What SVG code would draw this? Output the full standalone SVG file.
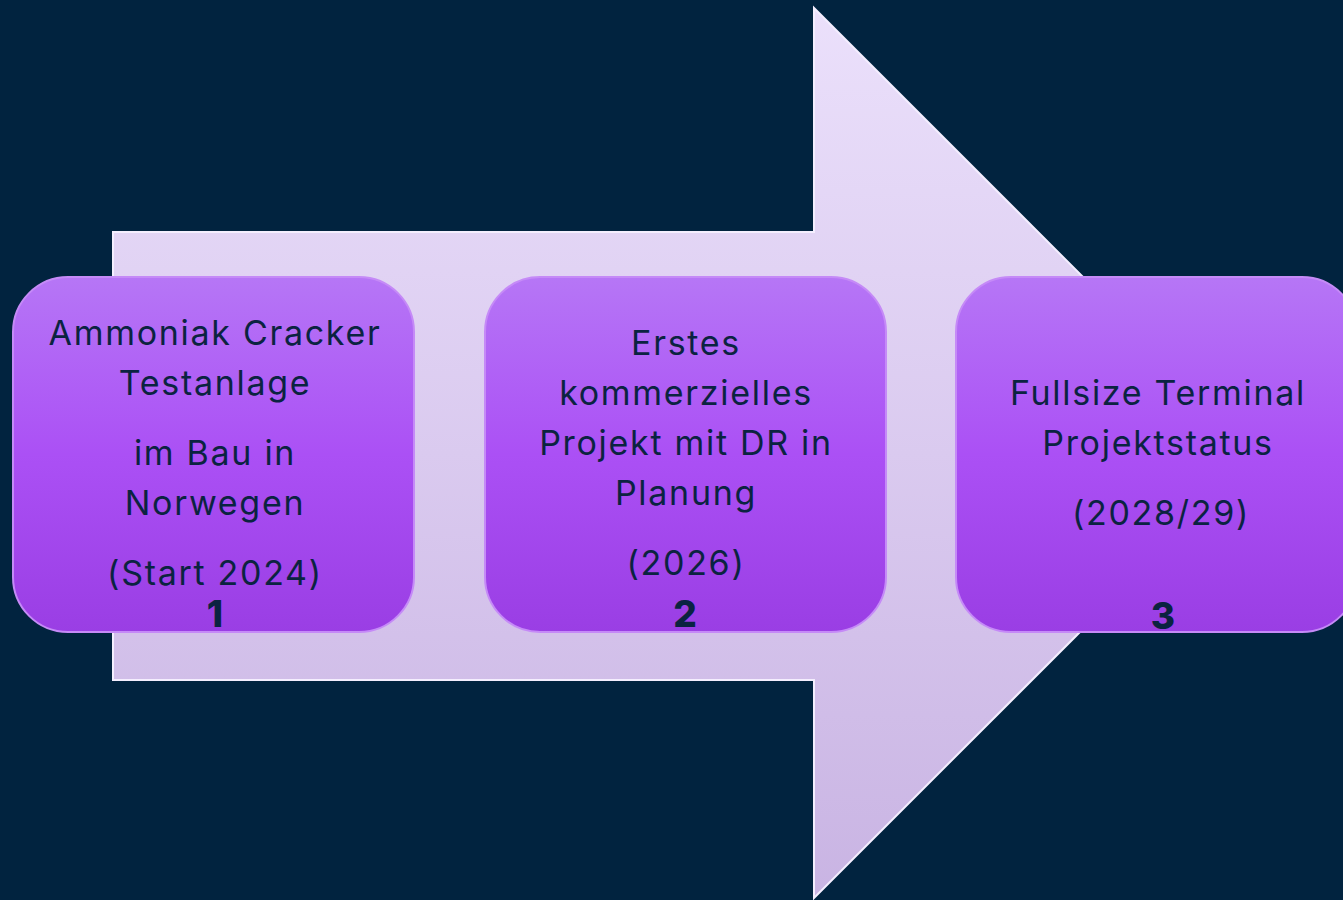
<svg xmlns="http://www.w3.org/2000/svg" width="1343" height="900" viewBox="0 0 1343 900">
<defs>
<linearGradient id="arrowG" x1="0" y1="0" x2="0" y2="1">
<stop offset="0" stop-color="#ebe0fb"/>
<stop offset="1" stop-color="#c9b4e3"/>
</linearGradient>
<linearGradient id="boxG" x1="0" y1="0" x2="0" y2="1">
<stop offset="0" stop-color="#b676f6"/>
<stop offset="0.5" stop-color="#ab50f5"/>
<stop offset="1" stop-color="#9a3ee4"/>
</linearGradient>
<linearGradient id="hiG" x1="0" y1="0" x2="0" y2="1">
<stop offset="0" stop-color="#f3c8ff" stop-opacity="0.9"/>
<stop offset="1" stop-color="#f3c8ff" stop-opacity="0"/>
</linearGradient>
<style>
.box{fill:url(#boxG);stroke:#c58af7;stroke-width:2}
.hi{fill:none;stroke:url(#hiG);stroke-width:4}
.t{font-family:Inter,"Liberation Sans",sans-serif;font-size:34px;letter-spacing:1.7px;fill:#0b2341;text-anchor:middle}
.n{font-family:Inter,"Liberation Sans",sans-serif;font-size:37px;font-weight:800;fill:#0b2341;text-anchor:middle}
</style>
</defs>
<rect width="1343" height="900" fill="#01233f"/>
<g id="connectors">
<path d="M113 232 H814 V8 L1259 453 L814 898 V680 H113 Z" fill="url(#arrowG)" stroke="#f4eefe" stroke-width="2"/>
</g>
<g id="node1">
<rect class="box" x="13" y="277" width="401" height="355" rx="55"/>
<path class="hi" d="M70 281 H357"/>
<text class="t" x="215" y="345">Ammoniak Cracker</text>
<text class="t" x="215" y="395">Testanlage</text>
<text class="t" x="215" y="465">im Bau in</text>
<text class="t" x="215" y="515">Norwegen</text>
<text class="t" x="215" y="585">(Start 2024)</text>
<text class="n" x="215" y="627">1</text>
</g>
<g id="node2">
<rect class="box" x="485" y="277" width="401" height="355" rx="55"/>
<path class="hi" d="M542 281 H829"/>
<text class="t" x="686" y="355">Erstes</text>
<text class="t" x="686" y="405">kommerzielles</text>
<text class="t" x="686" y="455">Projekt mit DR in</text>
<text class="t" x="686" y="505">Planung</text>
<text class="t" x="686" y="575">(2026)</text>
<text class="n" x="685" y="627">2</text>
</g>
<g id="node3">
<rect class="box" x="956" y="277" width="401" height="355" rx="55"/>
<path class="hi" d="M1013 281 H1300"/>
<text class="t" x="1158" y="405">Fullsize Terminal</text>
<text class="t" x="1158" y="455">Projektstatus</text>
<text class="t" x="1161" y="525">(2028/29)</text>
<text class="n" x="1163" y="629">3</text>
</g>
</svg>
